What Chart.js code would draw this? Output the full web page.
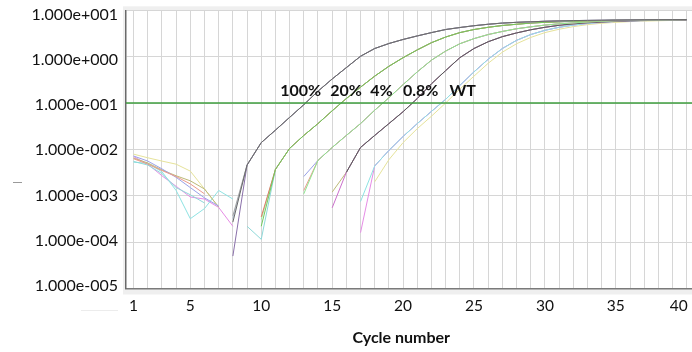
<!DOCTYPE html>
<html>
<head>
<meta charset="utf-8">
<script src="https://cdn.jsdelivr.net/npm/chart.js@4.4.1/dist/chart.umd.min.js"></script>
<style>
  html, body { margin: 0; padding: 0; background: #ffffff; }
  #wrap { position: relative; width: 692px; height: 352px; }
</style>
</head>
<body>
<div id="wrap"><canvas id="c" width="692" height="352"></canvas></div>
<script>
const N = null;
const cycles = [1,2,3,4,5,6,7,8,9,10,11,12,13,14,15,16,17,18,19,20,21,22,23,24,25,26,27,28,29,30,31,32,33,34,35,36,37,38,39,40];
const xTickLabels = [1,5,10,15,20,25,30,35,40];
const yTickValues = [1e-5,1e-4,1e-3,1e-2,1e-1,1e0,1e1];
const yTickLabels = ['1.000e-005','1.000e-004','1.000e-003','1.000e-002','1.000e-001','1.000e+000','1.000e+001'];
const threshold = 0.1;
const groupLabels = ['100%','20%','4%','0.8%','WT'];
const xTitle = 'Cycle number';

// group amplification tails (fluorescence, log scale)
const rise100 = [4.6e-3,1.4e-2,2.6e-2,4.9e-2,9.2e-2,0.18,0.33,0.58,1.02,1.5,1.92,2.35,2.8,3.3,3.85,4.25,4.65,5.0,5.3,5.5,5.65,5.8,5.9,6.0,6.05,6.1,6.15,6.2,6.25,6.28,6.3,6.32]; // cycles 9-40
const rise20 = [3.7e-3,1.05e-2,2.0e-2,3.6e-2,6.8e-2,0.125,0.22,0.38,0.62,0.95,1.4,2.0,2.65,3.3,3.85,4.3,4.7,5.0,5.3,5.5,5.65,5.8,5.9,6.0,6.1,6.15,6.2,6.25,6.3,6.32]; // cycles 11-40
const rise4 = [5.8e-3,1.1e-2,2.0e-2,3.6e-2,7.0e-2,0.13,0.25,0.47,0.84,1.32,1.9,2.45,3.0,3.5,4.0,4.4,4.8,5.1,5.35,5.6,5.8,5.95,6.05,6.15,6.2,6.25,6.3]; // cycles 14-40
const rise08 = [3.2e-3,1.1e-2,2.0e-2,3.6e-2,6.5e-2,0.125,0.26,0.5,0.95,1.5,2.1,2.7,3.25,3.8,4.3,4.75,5.1,5.4,5.6,5.8,5.95,6.05,6.1,6.15,6.2]; // cycles 16-40
const riseWT = [4.4e-3,9.5e-3,1.9e-2,3.6e-2,6.6e-2,0.12,0.24,0.47,0.88,1.5,2.25,3.0,3.7,4.3,4.8,5.2,5.5,5.75,5.9,6.0,6.1,6.15,6.2]; // cycles 18-40
const riseWTyellow = [2.0e-3,6.0e-3,1.4e-2,2.8e-2,5.2e-2,0.1,0.2,0.38,0.72,1.25,1.9,2.6,3.3,3.9,4.45,4.9,5.25,5.5,5.7,5.85,5.95,6.05,6.1]; // cycles 18-40

// early cycles of each well (before the group tail starts)
const lead100a = [N,N,N,N,N,N,N,3.7e-4];
const lead100b = [N,N,N,N,N,N,N,5.0e-5];
const lead100c = [N,N,N,N,N,N,N,2.7e-4];
const lead100d = [N,N,N,N,N,N,N,3.2e-4];
const lead20a = [N,N,N,N,N,N,N,N,N,3.5e-4];
const lead20b = [N,N,N,N,N,N,N,N,N,2.2e-4];
const lead20c = [N,N,N,N,N,N,N,N,N,3.1e-4];
const lead20d = [5.5e-3,4.6e-3,3.0e-3,1.5e-3,1.05e-3,7.0e-4,N,N,2.2e-4,1.15e-4];
const lead4a = [7.2e-3,5.6e-3,3.8e-3,2.5e-3,1.5e-3,9.0e-4,6.0e-4,N,N,N,N,N,2.6e-3];
const lead4b = [6.3e-3,4.8e-3,3.5e-3,2.6e-3,1.8e-3,1.1e-3,N,N,N,N,N,N,1.3e-3];
const lead4c = [N,N,N,N,N,N,N,N,N,N,N,N,1.1e-3];
const lead08a = [6.5e-3,5.1e-3,3.6e-3,2.7e-3,2.1e-3,1.4e-3,5.7e-4,N,N,N,N,N,N,N,1.2e-3];
const lead08b = [N,N,N,N,N,N,N,N,N,N,N,N,N,N,5.5e-4];
const lead08c = [N,N,N,N,N,N,N,N,N,N,N,N,N,N,N];
const lead08d = [N,N,N,N,N,N,N,N,N,N,N,N,N,N,N];
const leadWTa = [5.3e-3,5.0e-3,3.3e-3,1.3e-3,3.2e-4,5.3e-4,1.3e-3,8.5e-4,N,N,N,N,N,N,N,N,7.5e-4];
const leadWTb = [7.0e-3,4.8e-3,2.7e-3,1.6e-3,9.4e-4,8.5e-4,5.6e-4,2.2e-4,N,N,N,N,N,N,N,N,1.6e-4];
const leadWTc = [N,N,N,N,N,N,N,N,N,N,N,N,N,N,N,N,N];
const leadWTd = [7.9e-3,6.6e-3,5.6e-3,4.8e-3,3.4e-3,1.4e-3,5.7e-4,N,N,N,N,N,N,N,N,N,N];

// first listed is drawn on top
const wells = [
  { lead: lead100c, tail: rise100, color: '#6a6a6a' },
  { lead: lead100a, tail: rise100, color: '#a3a3a3' },
  { lead: lead100b, tail: rise100, color: '#8a70aa' },
  { lead: lead100d, tail: rise100, color: '#b3c4dc' },
  { lead: lead20b, tail: rise20, color: '#72c95c' },
  { lead: lead20a, tail: rise20, color: '#de7a66' },
  { lead: lead20c, tail: rise20, color: '#a6e8a6' },
  { lead: lead20d, tail: rise20, color: '#8fd9d9' },
  { lead: lead4c, tail: rise4, color: '#8fe68f' },
  { lead: lead4b, tail: rise4, color: '#eb9a8c' },
  { lead: lead4a, tail: rise4, color: '#9aa1e8' },
  { lead: lead08c, tail: rise08, color: '#5a5a5a' },
  { lead: lead08b, tail: rise08, color: '#cc70cc' },
  { lead: lead08a, tail: rise08, color: '#bdba78' },
  { lead: lead08d, tail: rise08, color: '#78d6d6' },
  { lead: leadWTa, tail: riseWT, color: '#8ee3e3' },
  { lead: leadWTb, tail: riseWT, color: '#e68ce6' },
  { lead: leadWTc, tail: riseWT, color: '#b6b6f2' },
  { lead: leadWTd, tail: riseWTyellow, color: '#e6e39a' }
];

const datasets = [{
  label: 'threshold',
  data: [{x: 0.465, y: threshold}, {x: 40.37, y: threshold}],
  borderColor: '#3e9e3e',
  borderWidth: 1.6,
  pointRadius: 0,
  fill: false
}];
wells.forEach((w, i) => {
  const vals = w.lead.concat(w.tail);
  datasets.push({
    label: 'well ' + (i + 1),
    data: cycles.map((c, k) => ({x: c, y: vals[k]})),
    borderColor: w.color,
    borderWidth: 1,
    pointRadius: 0,
    tension: 0,
    spanGaps: false,
    fill: false
  });
});

const frame = {
  id: 'frame',
  beforeDraw(chart) {
    const {ctx, chartArea: a} = chart;
    ctx.save();
    ctx.fillStyle = '#efefef';
    ctx.fillRect(a.left - 3, a.top - 4, a.right - a.left + 3, a.bottom - a.top + 10);
    ctx.fillStyle = '#ffffff';
    ctx.fillRect(a.left, a.top, a.right - a.left, a.bottom - a.top);
    ctx.strokeStyle = '#9a9a9a';
    ctx.lineWidth = 1;
    ctx.beginPath(); ctx.moveTo(13, 182.5); ctx.lineTo(22, 182.5); ctx.stroke();
    ctx.strokeStyle = '#ececec';
    ctx.beginPath(); ctx.moveTo(81, 310.5); ctx.lineTo(118, 310.5); ctx.stroke();
    ctx.restore();
  }
};

const groupText = {
  id: 'groupText',
  afterDatasetsDraw(chart) {
    const {ctx, scales: {x, y}} = chart;
    const at = [11.34, 14.86, 17.68, 19.99, 23.27];
    ctx.save();
    ctx.font = 'bold 16px Lato';
    ctx.fillStyle = '#111111';
    ctx.textAlign = 'left';
    ctx.textBaseline = 'middle';
    groupLabels.forEach((t, i) => {
      ctx.fillText(t, x.getPixelForValue(at[i]), y.getPixelForValue(0.186));
    });
    ctx.restore();
  }
};

const findLabel = (v) => {
  const i = yTickValues.findIndex(t => Math.abs(Math.log10(t) - Math.log10(v)) < 1e-6);
  return i >= 0 ? yTickLabels[i] : '';
};
const lastX = xTickLabels[xTickLabels.length - 1];

new Chart(document.getElementById('c'), {
  type: 'line',
  data: { datasets },
  plugins: [frame, groupText],
  options: {
    responsive: false,
    animation: false,
    layout: { padding: { top: 10.3, left: 0, right: 0, bottom: 0 } },
    plugins: { legend: { display: false }, tooltip: { enabled: false } },
    scales: {
      x: {
        type: 'linear',
        min: 0.465,
        max: 40.37,
        afterBuildTicks: (s) => { s.ticks = cycles.map(v => ({value: v})); },
        afterFit: (s) => { s.height = 63.5; s.paddingLeft = 0; s.paddingRight = 0; },
        ticks: {
          autoSkip: false,
          maxRotation: 0,
          padding: 8,
          color: '#111111',
          font: { family: 'Lato', size: 15.5 },
          callback: (v) => v === lastX ? String(v) + '    ' : (xTickLabels.includes(v) ? String(v) : '')
        },
        grid: { color: '#d6d6d6', lineWidth: 1, drawTicks: false },
        border: { display: true, color: '#7a7a7a', width: 1.5 },
        title: {
          display: true,
          text: xTitle + '    ',
          color: '#111111',
          font: { family: 'Lato', size: 16, weight: 'bold' },
          padding: { top: 0, bottom: 5 }
        }
      },
      y: {
        type: 'logarithmic',
        position: 'left',
        weight: 0,
        min: 1e-5,
        max: 1e1,
        afterBuildTicks: (s) => { s.ticks = yTickValues.map(v => ({value: v})); },
        afterFit: (s) => { s.width = 0; s.paddingTop = 0; s.paddingBottom = 0; },
        ticks: { display: false },
        grid: { color: '#d6d6d6', lineWidth: 1, drawTicks: false },
        border: { display: true, color: '#6a6a6a', width: 1.5 }
      },
      yLabels: {
        type: 'logarithmic',
        position: 'left',
        weight: 1,
        min: 8.67e-6,
        max: 12.7,
        afterBuildTicks: (s) => { s.ticks = yTickValues.map(v => ({value: v})); },
        afterFit: (s) => { s.width = 126; s.paddingTop = 0; s.paddingBottom = 0; },
        ticks: {
          padding: 8,
          color: '#111111',
          font: { family: 'Lato', size: 16 },
          callback: findLabel
        },
        grid: { display: false, drawTicks: false },
        border: { display: false }
      }
    }
  }
});
</script>
</body>
</html>
